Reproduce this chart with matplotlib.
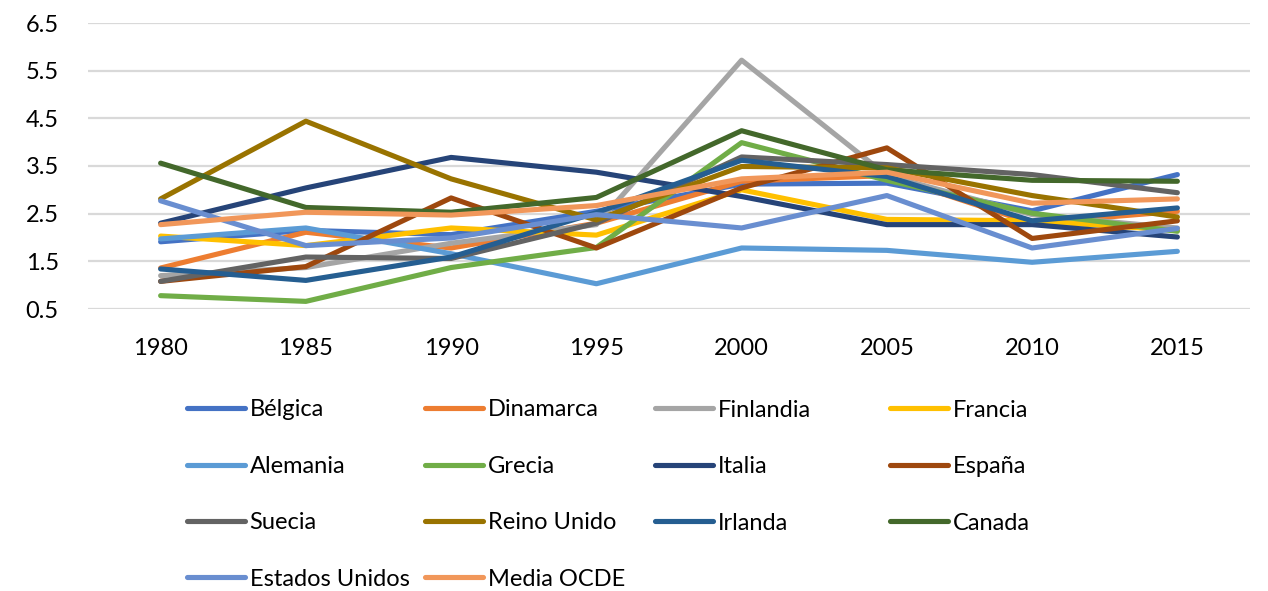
import matplotlib
matplotlib.use("Agg")
import matplotlib.pyplot as plt

years = ["1980", "1985", "1990", "1995", "2000", "2005", "2010", "2015"]

belgica = [1.91, 2.15, 2.06, 2.55, 3.12, 3.14, 2.56, 3.32]
dinamarca = [1.36, 2.11, 1.78, 2.30, 3.18, 3.30, 2.30, 2.55]
finlandia = [1.20, 1.37, 1.88, 2.27, 5.72, 3.30, 2.48, 2.20]
francia = [2.03, 1.83, 2.20, 2.05, 3.00, 2.38, 2.35, 2.15]
alemania = [1.97, 2.20, 1.66, 1.03, 1.78, 1.73, 1.48, 1.71]
grecia = [0.78, 0.66, 1.37, 1.79, 3.99, 3.20, 2.51, 2.13]
italia = [2.30, 3.04, 3.68, 3.37, 2.86, 2.27, 2.27, 2.01]
espana = [1.08, 1.39, 2.83, 1.78, 3.04, 3.88, 1.98, 2.35]
suecia = [1.08, 1.59, 1.56, 2.30, 3.69, 3.53, 3.32, 2.94]
reino_unido = [2.81, 4.44, 3.23, 2.37, 3.49, 3.46, 2.88, 2.43]
irlanda = [1.34, 1.10, 1.59, 2.52, 3.62, 3.28, 2.35, 2.62]
canada = [3.56, 2.63, 2.53, 2.84, 4.24, 3.42, 3.20, 3.18]
estados_unidos = [2.77, 1.83, 1.99, 2.48, 2.20, 2.88, 1.78, 2.19]
media_ocde = [2.27, 2.53, 2.47, 2.67, 3.23, 3.37, 2.72, 2.81]

series_names = ["Bélgica", "Dinamarca", "Finlandia", "Francia", "Alemania", "Grecia",
                "Italia", "España", "Suecia", "Reino Unido", "Irlanda", "Canada",
                "Estados Unidos", "Media OCDE"]
series_values = [belgica, dinamarca, finlandia, francia, alemania, grecia, italia,
                 espana, suecia, reino_unido, irlanda, canada, estados_unidos, media_ocde]
colors = ["#4472C4", "#ED7D31", "#A5A5A5", "#FFC000", "#5B9BD5", "#70AD47",
          "#264478", "#9E480E", "#636363", "#997300", "#255E91", "#43682B",
          "#698ED0", "#F1975A"]

yticks = [0.5, 1.5, 2.5, 3.5, 4.5, 5.5, 6.5]

plt.rcParams['font.family'] = ['Lato', 'DejaVu Sans']
FS = 17

W, H = 1268, 591
fig = plt.figure(figsize=(W / 100, H / 100), dpi=100)
ax = fig.add_axes([88 / W, 1 - 309 / H, (1250 - 88) / W, (309 - 23) / H])

x = list(range(len(years)))
lines = []
for name, vals, c in zip(series_names, series_values, colors):
    ln, = ax.plot(x, vals, color=c, lw=3.7, solid_capstyle='round',
                  solid_joinstyle='round', label=name)
    lines.append(ln)

ax.set_xlim(-0.5, len(years) - 0.5)
ax.set_ylim(0.5, 6.5)
ax.set_yticks(yticks)
ax.set_yticklabels([f"{v:.1f}" for v in yticks])
ax.set_xticks(x)
ax.set_xticklabels(years)
ax.tick_params(axis='both', length=0, labelsize=FS, colors='#000000')
ax.tick_params(axis='x', pad=21)
ax.tick_params(axis='y', pad=21)
ax.grid(axis='y', color='#D9D9D9', lw=1.6)
ax.set_axisbelow(True)
for s in ax.spines.values():
    s.set_visible(False)

# legend: 4 columns, row-major order, equal column widths
col_x = [187, 425, 655, 890]
row_y = [411, 467, 522, 578]
ncol = 4
for c in range(ncol):
    idx = list(range(c, len(lines), ncol))
    ys = [row_y[i // ncol] for i in idx]
    yc = sum(ys) / len(ys)
    fig.legend([lines[i] for i in idx], [series_names[i] for i in idx],
               loc='center left', bbox_to_anchor=(col_x[c] / W, 1 - yc / H),
               frameon=False, fontsize=FS, handlelength=2.45, handletextpad=0.2,
               borderpad=0, borderaxespad=0, labelspacing=1.5)

fig.savefig("out.png", dpi=100)
